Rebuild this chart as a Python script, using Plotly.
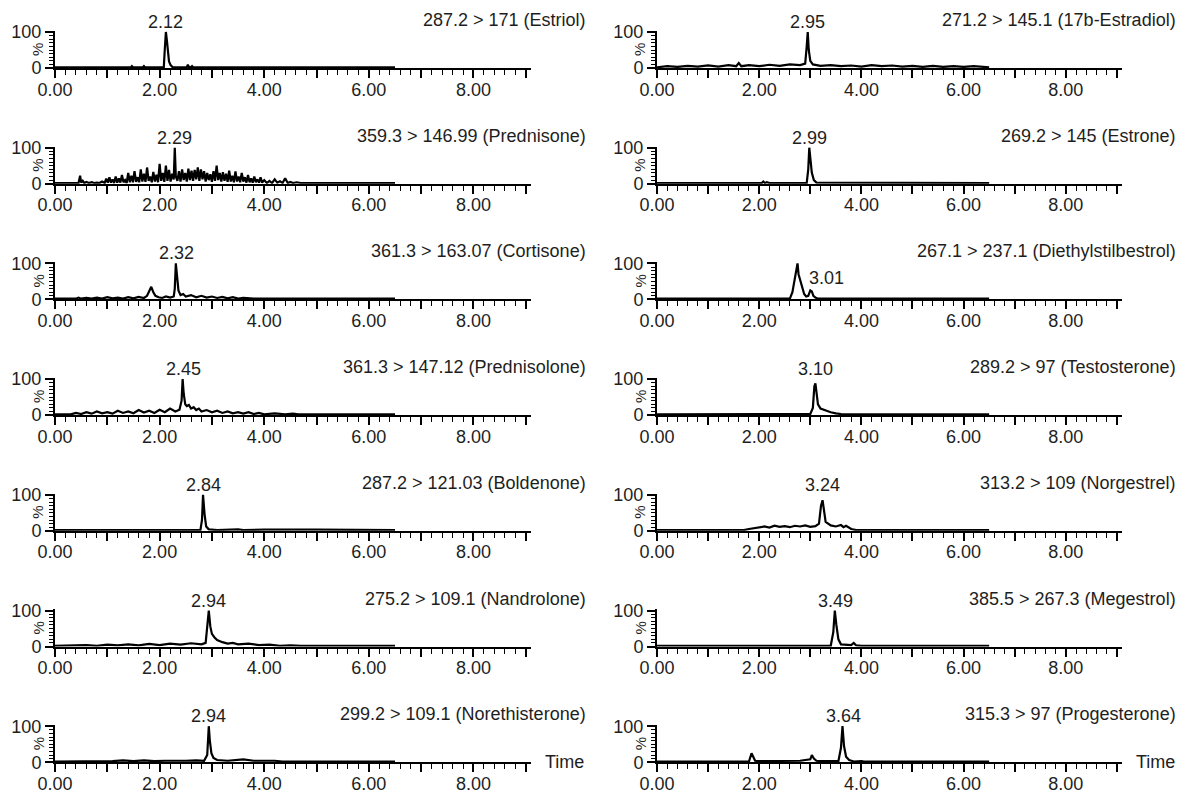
import plotly.graph_objects as go

# ---------------- data ----------------
titles_left = ["287.2 > 171 (Estriol)", "359.3 > 146.99 (Prednisone)", "361.3 > 163.07 (Cortisone)",
               "361.3 > 147.12 (Prednisolone)", "287.2 > 121.03 (Boldenone)", "275.2 > 109.1 (Nandrolone)",
               "299.2 > 109.1 (Norethisterone)"]
titles_right = ["271.2 > 145.1 (17b-Estradiol)", "269.2 > 145 (Estrone)", "267.1 > 237.1 (Diethylstilbestrol)",
                "289.2 > 97 (Testosterone)", "313.2 > 109 (Norgestrel)", "385.5 > 267.3 (Megestrol)",
                "315.3 > 97 (Progesterone)"]
peak_left = [2.12, 2.29, 2.32, 2.45, 2.84, 2.94, 2.94]
peak_right = [2.95, 2.99, 3.01, 3.10, 3.24, 3.49, 3.64]

x_tick_vals = [0, 1, 2, 3, 4, 5, 6, 7, 8, 9]
x_tick_text = ["0.00", "", "2.00", "", "4.00", "", "6.00", "", "8.00", ""]

t_estriol = [0.00, 1.45, 1.47, 1.49, 1.68, 1.70, 1.72, 2.08, 2.10, 2.12, 2.14, 2.16, 2.18, 2.21, 2.25,
             2.52, 2.54, 2.56, 2.60, 2.62, 2.64, 6.50]
i_estriol = [2, 2, 5, 2, 2, 5, 2, 2, 55, 100, 75, 40, 18, 8, 2, 2, 9, 3, 2, 5, 2, 2]

t_prednisone = [0.00, 0.45, 0.48, 0.50, 0.53, 0.56, 0.60, 0.65, 0.70, 0.75, 0.80, 0.85, 0.90, 0.95, 0.98,
                1.01, 1.04, 1.07, 1.10, 1.13, 1.16, 1.19, 1.22, 1.25, 1.28, 1.31, 1.34, 1.37, 1.40, 1.43,
                1.46, 1.49, 1.52, 1.55, 1.58, 1.61, 1.64, 1.67, 1.70, 1.73, 1.76, 1.79, 1.82, 1.85, 1.88,
                1.91, 1.94, 1.97, 2.00, 2.03, 2.06, 2.09, 2.12, 2.15, 2.18, 2.21, 2.24, 2.27, 2.29, 2.31,
                2.34, 2.37, 2.40, 2.43, 2.46, 2.49, 2.52, 2.55, 2.58, 2.61, 2.64, 2.67, 2.70, 2.73, 2.76,
                2.79, 2.82, 2.85, 2.88, 2.91, 2.94, 2.97, 3.00, 3.03, 3.06, 3.09, 3.12, 3.15, 3.18, 3.21,
                3.24, 3.27, 3.30, 3.33, 3.36, 3.39, 3.42, 3.45, 3.48, 3.51, 3.54, 3.57, 3.60, 3.63, 3.66,
                3.69, 3.72, 3.75, 3.78, 3.81, 3.84, 3.87, 3.90, 3.93, 3.96, 4.00, 4.05, 4.10, 4.15, 4.20,
                4.25, 4.30, 4.35, 4.40, 4.45, 4.50, 4.55, 4.62, 4.70, 4.80, 4.85, 6.50]
i_prednisone = [2, 2, 22, 3, 8, 2, 5, 2, 4, 2, 3, 2, 6, 2, 14,
                3, 18, 3, 12, 2, 20, 3, 15, 3, 24, 4, 10, 2, 30, 4,
                22, 4, 35, 5, 18, 4, 40, 6, 28, 5, 45, 8, 20, 4, 33,
                6, 25, 4, 55, 8, 30, 5, 50, 8, 38, 6, 28, 12, 100, 20,
                8, 35, 6, 40, 10, 30, 6, 42, 10, 36, 8, 38, 12, 45, 8,
                40, 12, 35, 6, 30, 10, 26, 5, 35, 8, 50, 10, 30, 6, 32,
                8, 28, 5, 36, 6, 22, 4, 34, 6, 20, 4, 30, 6, 18, 3,
                24, 4, 15, 3, 20, 4, 12, 3, 18, 3, 10, 2, 8, 2, 12,
                3, 7, 2, 15, 2, 5, 2, 4, 2, 3, 2, 2]

t_cortisone = [0.00, 0.40, 0.45, 0.50, 0.60, 0.70, 0.80, 0.90, 1.00, 1.10, 1.20, 1.30, 1.40, 1.50, 1.60,
               1.70, 1.76, 1.80, 1.84, 1.88, 1.92, 1.98, 2.05, 2.12, 2.20, 2.27, 2.29, 2.31, 2.33, 2.36,
               2.40, 2.45, 2.50, 2.60, 2.70, 2.80, 2.90, 3.00, 3.10, 3.20, 3.30, 3.40, 3.50, 3.60, 3.80,
               4.00, 4.20, 6.50]
i_cortisone = [2, 2, 5, 2, 4, 2, 5, 2, 6, 3, 5, 2, 6, 3, 7,
               4, 10, 25, 35, 20, 10, 6, 4, 8, 5, 8, 30, 100, 70, 25,
               12, 15, 8, 12, 6, 10, 5, 8, 4, 7, 3, 6, 2, 4, 2,
               3, 2, 2]

t_prednisolone = [0.00, 0.30, 0.40, 0.50, 0.60, 0.70, 0.80, 0.90, 1.00, 1.10, 1.20, 1.30, 1.40, 1.50, 1.60,
                  1.70, 1.80, 1.90, 2.00, 2.10, 2.20, 2.30, 2.38, 2.42, 2.44, 2.46, 2.49, 2.52, 2.56, 2.60,
                  2.65, 2.70, 2.75, 2.80, 2.90, 3.00, 3.10, 3.20, 3.30, 3.40, 3.50, 3.60, 3.70, 3.80, 3.90,
                  4.00, 4.20, 4.40, 4.55, 4.65, 6.50]
i_prednisolone = [2, 2, 6, 3, 8, 4, 10, 5, 8, 4, 12, 6, 10, 5, 14,
                  7, 12, 6, 15, 8, 18, 10, 15, 40, 100, 60, 30, 25, 28, 18,
                  22, 14, 18, 10, 14, 8, 12, 6, 10, 5, 8, 4, 8, 3, 6,
                  2, 5, 2, 4, 2, 2]

t_boldenone = [0.00, 1.00, 1.05, 1.10, 1.50, 2.00, 2.50, 2.78, 2.81, 2.83, 2.86, 2.89, 2.94, 3.10, 3.50,
               3.60, 4.00, 4.50, 5.00, 6.50]
i_boldenone = [2, 2, 4, 2, 3, 2, 3, 2, 30, 100, 45, 12, 4, 2, 4,
               2, 3, 2, 3, 2]

t_nandrolone = [0.00, 0.20, 0.40, 0.60, 0.80, 1.00, 1.20, 1.40, 1.60, 1.80, 2.00, 2.20, 2.40, 2.60, 2.80,
                2.88, 2.92, 2.94, 2.97, 3.00, 3.05, 3.10, 3.20, 3.30, 3.40, 3.50, 3.70, 3.90, 4.10, 4.30,
                4.50, 4.70, 6.50]
i_nandrolone = [2, 3, 2, 4, 2, 5, 3, 6, 3, 7, 4, 8, 5, 9, 6,
                10, 70, 100, 55, 35, 25, 18, 12, 8, 10, 6, 8, 4, 5, 2,
                3, 2, 2]

t_norethisterone = [0.00, 0.90, 0.95, 1.10, 1.30, 1.50, 1.70, 1.90, 2.10, 2.30, 2.50, 2.70, 2.85, 2.91, 2.94,
                    2.96, 2.99, 3.03, 3.10, 3.30, 3.50, 3.60, 3.80, 4.00, 4.20, 4.35, 6.50]
i_norethisterone = [2, 2, 4, 3, 5, 3, 5, 3, 4, 3, 4, 5, 4, 20, 100,
                    60, 25, 12, 6, 4, 6, 8, 4, 5, 4, 2, 2]

t_estradiol = [0.00, 0.20, 0.40, 0.60, 0.80, 1.00, 1.20, 1.40, 1.55, 1.60, 1.65, 1.80, 2.00, 2.20, 2.40,
               2.60, 2.80, 2.90, 2.93, 2.95, 2.97, 3.00, 3.05, 3.20, 3.40, 3.60, 3.80, 4.00, 4.20, 4.40,
               4.60, 4.80, 5.00, 5.20, 5.40, 5.60, 5.80, 6.00, 6.20, 6.40, 6.50]
i_estradiol = [2, 5, 3, 6, 4, 7, 4, 8, 5, 14, 5, 8, 5, 9, 6,
               10, 8, 12, 60, 100, 50, 20, 10, 6, 8, 5, 7, 4, 8, 5,
               7, 4, 6, 3, 6, 3, 5, 3, 5, 3, 2]

t_estrone = [0.00, 2.05, 2.08, 2.11, 2.15, 2.20, 2.93, 2.96, 2.98, 3.00, 3.03, 3.07, 3.12, 6.50]
i_estrone = [2, 2, 6, 2, 4, 2, 2, 40, 100, 70, 30, 10, 3, 2]

t_des = [0.00, 1.60, 1.65, 1.70, 1.75, 1.80, 2.00, 2.10, 2.20, 2.30, 2.40, 2.60, 2.65, 2.70, 2.73,
         2.75, 2.77, 2.80, 2.84, 2.88, 2.92, 2.96, 3.00, 3.03, 3.06, 3.10, 3.15, 6.50]
i_des = [2, 2, 4, 2, 4, 2, 3, 2, 4, 2, 3, 2, 20, 60, 85,
         100, 70, 55, 35, 15, 8, 10, 25, 22, 10, 5, 2, 2]

t_testosterone = [0.00, 1.80, 1.85, 1.90, 2.50, 2.80, 3.00, 3.05, 3.08, 3.10, 3.12, 3.15, 3.20, 3.30, 3.40,
                  3.50, 3.60, 3.80, 6.50]
i_testosterone = [2, 2, 4, 2, 3, 2, 3, 20, 80, 88, 60, 30, 18, 12, 8,
                  5, 3, 2, 2]

t_norgestrel = [0.00, 1.70, 1.80, 1.90, 2.00, 2.10, 2.20, 2.30, 2.40, 2.50, 2.60, 2.70, 2.80, 2.90, 3.00,
                3.10, 3.17, 3.21, 3.24, 3.27, 3.30, 3.40, 3.50, 3.60, 3.65, 3.70, 3.80, 3.90, 6.50]
i_norgestrel = [2, 2, 5, 8, 10, 12, 9, 14, 11, 13, 10, 14, 12, 15, 11,
                13, 20, 70, 85, 50, 25, 15, 12, 16, 10, 14, 5, 2, 2]

t_megestrol = [0.00, 1.80, 1.85, 1.90, 2.50, 3.00, 3.40, 3.45, 3.48, 3.51, 3.55, 3.60, 3.80, 3.85, 3.90,
               4.00, 6.50]
i_megestrol = [2, 2, 4, 2, 3, 3, 2, 40, 100, 60, 20, 6, 4, 10, 3,
               2, 2]

t_progesterone = [0.00, 1.80, 1.85, 1.88, 1.92, 2.00, 2.20, 2.50, 2.80, 3.00, 3.03, 3.07, 3.12, 3.20, 3.40,
                  3.55, 3.60, 3.63, 3.66, 3.70, 3.76, 3.85, 4.00, 4.05, 6.50]
i_progesterone = [2, 2, 25, 15, 4, 3, 3, 3, 4, 8, 20, 10, 4, 3, 3,
                  3, 40, 100, 45, 15, 6, 2, 3, 2, 2]

left_series = [(t_estriol, i_estriol), (t_prednisone, i_prednisone), (t_cortisone, i_cortisone),
               (t_prednisolone, i_prednisolone), (t_boldenone, i_boldenone), (t_nandrolone, i_nandrolone),
               (t_norethisterone, i_norethisterone)]
right_series = [(t_estradiol, i_estradiol), (t_estrone, i_estrone), (t_des, i_des),
                (t_testosterone, i_testosterone), (t_norgestrel, i_norgestrel), (t_megestrol, i_megestrol),
                (t_progesterone, i_progesterone)]

# ---------------- layout geometry ----------------
W, H = 1184, 794
FONT = "Liberation Sans, Arial, sans-serif"
FS = 18
TXT = "#1e1e1e"
COLS = [(55, 531, 588), (657, 1122, 1178)]   # axis start px, axis end px, title right edge px
X_MAX = 9.1
BASE0, STEP, PH = 68, 115.7, 36.0
Y_MAX = 103

fig = go.Figure()
layout = dict(width=W, height=H, margin=dict(l=0, r=0, t=0, b=0, pad=0), autosize=False,
              paper_bgcolor="white", plot_bgcolor="white", showlegend=False,
              font=dict(family=FONT, size=FS, color=TXT))
annotations = []

for c, (series, titles, peaks) in enumerate([(left_series, titles_left, peak_left),
                                             (right_series, titles_right, peak_right)]):
    x0, x1, tr = COLS[c]
    for r in range(7):
        n = r * 2 + c + 1
        sfx = "" if n == 1 else str(n)
        yb = BASE0 + r * STEP
        bottom = (H - yb) / H
        top = bottom + PH * Y_MAX / 100 / H
        t, v = series[r]
        fig.add_trace(go.Scatter(x=t, y=v, mode="lines", xaxis="x" + sfx, yaxis="y" + sfx,
                                 line=dict(color="black", width=2.2), hoverinfo="skip"))
        layout["xaxis" + sfx] = dict(
            domain=[x0 / W, x1 / W], range=[0, X_MAX], anchor="y" + sfx,
            showline=True, linewidth=2, linecolor="black", showgrid=False, zeroline=False,
            ticks="outside", tickmode="array", tickvals=x_tick_vals, ticktext=x_tick_text,
            ticklen=8, tickwidth=1.5, tickcolor="black", ticklabelstandoff=-4,
            minor=dict(ticks="outside", tick0=0, dtick=0.2, ticklen=5, tickwidth=1, tickcolor="black",
                       showgrid=False),
            tickfont=dict(family=FONT, size=FS, color=TXT), fixedrange=True, automargin=False)
        layout["yaxis" + sfx] = dict(
            domain=[bottom, top], range=[0, Y_MAX], anchor="x" + sfx,
            showline=True, linewidth=2, linecolor="black", showgrid=False, zeroline=False,
            ticks="outside", tickmode="array", tickvals=[0, 100], ticktext=["0", "100"],
            ticklen=8, tickwidth=1.5, tickcolor="black",
            minor=dict(ticks="outside", tick0=0, dtick=10, ticklen=4, tickwidth=1, tickcolor="black",
                       showgrid=False),
            tickfont=dict(family=FONT, size=FS, color=TXT), fixedrange=True, automargin=False)
        # "%" label
        annotations.append(dict(x=(x0 - 17) / W, y=(H - (yb - PH * 0.5)) / H, xref="paper", yref="paper",
                                text="%", textangle=-90, showarrow=False, xanchor="center",
                                yanchor="middle", font=dict(size=15)))
        # compound title
        annotations.append(dict(x=tr / W, y=(H - (yb - 48)) / H, xref="paper", yref="paper",
                                text=titles[r], showarrow=False, xanchor="right", yanchor="middle"))
        # peak label
        if c == 1 and r == 2:
            annotations.append(dict(x=peaks[r], y=60, xref="x" + sfx, yref="y" + sfx, text=f"{peaks[r]:.2f}",
                                    showarrow=False, xanchor="left", xshift=-4, yanchor="middle"))
        else:
            annotations.append(dict(x=peaks[r], y=100, xref="x" + sfx, yref="y" + sfx, text=f"{peaks[r]:.2f}",
                                    showarrow=False, xanchor="center", yanchor="bottom", yshift=-2))

# "Time" labels at the bottom row
for c in range(2):
    x0, x1, tr = COLS[c]
    yb = BASE0 + 6 * STEP
    annotations.append(dict(x=(x1 + 12) / W, y=(H - yb) / H, xref="paper", yref="paper", text="Time",
                            showarrow=False, xanchor="left", yanchor="middle"))

layout["annotations"] = annotations
fig.update_layout(**layout)
fig.write_html("out.html", config={"displayModeBar": False},
               post_script="document.body.style.margin='0';document.body.style.overflow='hidden';")
